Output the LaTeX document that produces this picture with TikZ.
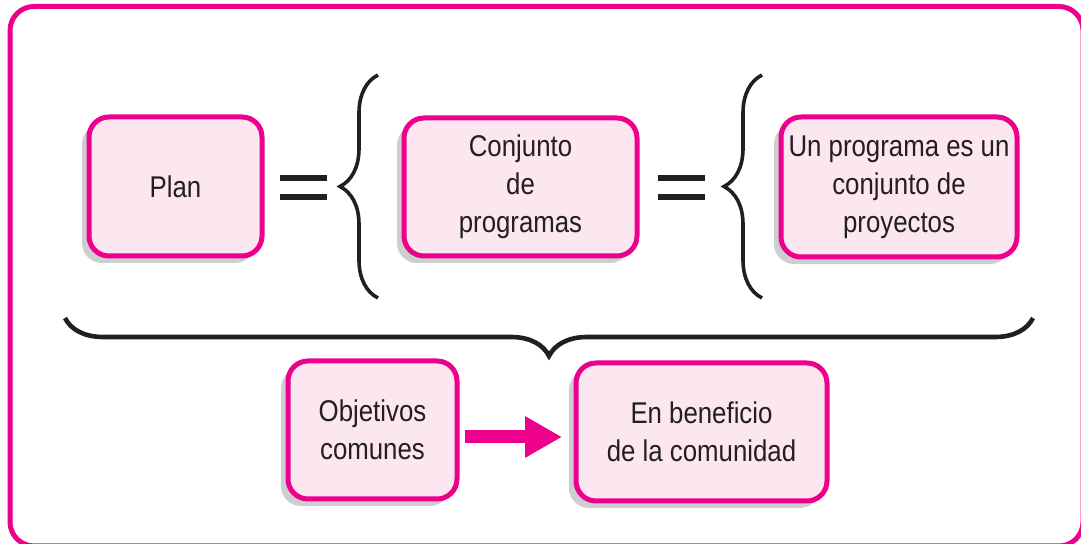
\documentclass[tikz,border=0pt]{standalone}
\usepackage{fontspec}
\setmainfont{Liberation Sans}[FakeStretch=0.86]
\usepackage{tikz}
\usetikzlibrary{positioning,arrows.meta,decorations.pathreplacing,shadows}
\definecolor{planpink}{HTML}{EC008C}
\definecolor{planfill}{HTML}{FCE6F0}
\definecolor{planshade}{HTML}{CDCED0}
\definecolor{braceink}{HTML}{231F20}

\begin{document}
\begin{tikzpicture}[x=0.5pt,y=-0.5pt,
  box/.style={draw=planpink, line width=2.5pt, fill=planfill, rounded corners=10pt,
    align=center, inner sep=0pt, outer sep=0pt,
    font=\fontsize{15}{19}\selectfont\color{braceink},
    drop shadow={shadow xshift=-3.5pt, shadow yshift=-3.5pt, fill=planshade, opacity=1}},
  curly/.style={decorate, decoration={brace, amplitude=#1}, line width=1.8pt, draw=braceink},
  flow/.style={-{Triangle[length=18.5pt,width=19.5pt]}, line width=6.5pt, draw=planpink,
    shorten <=4pt, shorten >=7pt}]
  \useasboundingbox (0,0) rectangle (1081,544);

  % Frame
  \draw[planpink, line width=2.5pt, rounded corners=12pt] (10,6.5) rectangle (1083,546);

  % Top row
  \node[box, minimum width=86.5pt, minimum height=69.5pt] (plan) at (175.5,186.5) {Plan};
  \node[box, minimum width=116.5pt, minimum height=69pt] (progs) at (520.5,187)
    {Conjunto\\de\\programas};
  \node[box, minimum width=118pt, minimum height=70pt] (proys) at (899,187)
    {Un programa es un\\conjunto de\\proyectos};

  % Equals signs
  \fill[braceink] (280,175) rectangle (327,181);
  \fill[braceink] (280,194) rectangle (327,200);
  \fill[braceink] (658,175) rectangle (705,181);
  \fill[braceink] (658,194) rectangle (705,200);

  % Braces
  \draw[curly=19pt] (378,298) -- (378,75);
  \draw[curly=19pt] (762,298) -- (762,75);
  \draw[curly=19pt, line width=2.3pt] (1033,318) -- (65,318);

  % Bottom row
  \node[box, minimum width=84.5pt, minimum height=69pt] (obj) at (372.5,430)
    {Objetivos\\comunes};
  \node[box, minimum width=125.5pt, minimum height=69pt] (benef) at (701.5,432)
    {En beneficio\\de la comunidad};

  \draw[flow] ([yshift=-3.5pt]obj.east) -- ([yshift=-2.5pt]benef.west);
\end{tikzpicture}
\end{document}
